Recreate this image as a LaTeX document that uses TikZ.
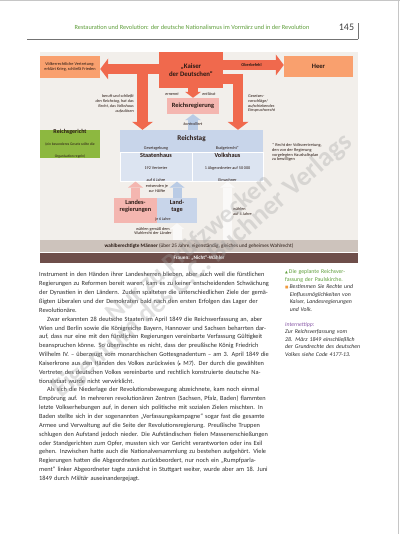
\documentclass[tikz,border=0pt]{standalone}
\usepackage{fontspec}
\setmainfont{Carlito}
\newfontfamily\symf{DejaVu Sans}
\usetikzlibrary{arrows.meta}
\definecolor{bgd}{HTML}{F2EFEB}
\definecolor{kaiserc}{HTML}{F0694D}
\definecolor{orangec}{HTML}{F9A06E}
\definecolor{pinkc}{HTML}{F4B6B0}
\definecolor{bluec}{HTML}{C8D5EA}
\definecolor{lbluec}{HTML}{DCE4F1}
\definecolor{kontrc}{HTML}{B9CBE5}
\definecolor{greenc}{HTML}{8DB840}
\definecolor{barc}{HTML}{CDC3BC}
\definecolor{darkbarc}{HTML}{6E4E4A}
\definecolor{txt}{HTML}{2E2E2E}
\definecolor{dtxt}{HTML}{2A1A14}
\definecolor{headg}{HTML}{5E9E3A}
\definecolor{wm}{HTML}{A0A0A0}
\definecolor{purp}{HTML}{8A5AA8}
\definecolor{bul}{HTML}{F29A3C}
\definecolor{wahlc}{HTML}{FAF9F8}
\newcommand{\fs}[2]{\fontsize{#1}{#2}\selectfont}
\newcommand{\jl}[1]{\makebox[234pt][s]{#1}}
\tikzset{
  boxn/.style={inner sep=0pt, align=center, text=dtxt},
  fat/.style={line width=10pt, -{Triangle[width=21pt,length=8pt,line width=0pt]}},
  fatS/.style={line width=9pt, -{Triangle[width=15pt,length=6pt,line width=0pt]}},
  lab/.style={inner sep=0pt, align=center, text=dtxt, font=\itshape\fs{4.2}{4.8}},
  ttl/.style={font=\bfseries\fs{6.3}{7}},
  wmark/.style={rotate=41, inner sep=0pt, text=wm, opacity=0.32, font=\bfseries\fs{20}{21}},
}
\begin{document}
\begin{tikzpicture}[x=1pt,y=-1pt]
\useasboundingbox (0,0) rectangle (400,534);
\fill[white] (0,0) rectangle (400,534);
\draw[gray!45, line width=1.2pt] (0,0.6) -- (400,0.6);
\draw[gray!45, line width=1.2pt] (398.6,0) -- (398.6,534);

% header
\node[inner sep=0pt, text=headg, font=\fs{6.3}{7}] (head) at (192,27.5) {Restauration und Revolution: der deutsche Nationalismus im Vormärz und in der Revolution};
\node[inner sep=0pt, text=black!75, font=\fs{10}{11}] (pnum) at (346.5,27) {145};
\coordinate (rl) at (27,39.5);
\coordinate (rr) at (358,39.5);
\draw[black!55, line width=0.6pt] (rl) -- (rr);
\draw[black!55, line width=0.6pt] (rr) -- ++(0,-16);

% diagram background
\fill[bgd] (40,52) rectangle (358,240);

% boxes
\node[boxn, fill=orangec, minimum width=60pt, minimum height=22pt, font=\fs{4.3}{5.2}] (voelker) at (70,67) {Völkerrechtliche Vertretung:\\erklärt Krieg, schließt Frieden};
\node[boxn, fill=kaiserc, minimum width=64pt, minimum height=36pt, font=\bfseries\fs{6.8}{7.6}] (kaiser) at (191,70) {„Kaiser\\der Deutschen“};
\node[boxn, fill=orangec, minimum width=69pt, minimum height=21pt, font=\bfseries\fs{6.6}{7}] (heer) at (318.5,66.5) {Heer};
\node[boxn, fill=pinkc, minimum width=52pt, minimum height=16pt, font=\bfseries\fs{6.4}{7}] (regierung) at (193,106) {Reichsregierung};
\node[boxn, fill=greenc, minimum width=60pt, minimum height=18pt] (gericht) at (70,144) {{\bfseries\fs{6}{6.6}Reichsgericht}\\{\fs{3.7}{4.2}(ein besonderes Gesetz sollte die}\\{\fs{3.7}{4.2}Organisation regeln)}};

\node[boxn, fill=bluec, minimum width=143pt, minimum height=23pt] (reichstag) at (191.5,141.5) {};
\node[boxn, fill=lbluec, draw=white, line width=0.8pt, minimum width=72pt, minimum height=28pt] (staatenhaus) at (156,167) {{\bfseries\fs{6.2}{6.8}Staatenhaus}\\{\fs{4.2}{4.8}192 Vertreter}\\{\fs{4.2}{4.8}auf 6 Jahre}};
\node[boxn, fill=lbluec, draw=white, line width=0.8pt, minimum width=71pt, minimum height=28pt] (volkshaus) at (227.5,167) {{\bfseries\fs{6.2}{6.8}Volkshaus}\\{\fs{4.2}{4.8}1 Abgeordneter auf 50\,000}\\{\fs{4.2}{4.8}Einwohner}};
\node[boxn, font=\bfseries\fs{7.2}{8}] (rtitle) at (191.5,138.5) {Reichstag};
\node[boxn, font=\fs{4.2}{5}] (gesetz) at (156,148) {Gesetzgebung};
\node[boxn, font=\fs{4.2}{5}] (budget) at (227.5,148) {Budgetrecht*};
\node[inner sep=0pt, anchor=north west, align=left, text=dtxt, font=\fs{4.3}{4.9}] (fnote) at (272,143) {* Recht der Volksvertretung,\\den von der Regierung\\vorgelegten Haushaltsplan\\zu bewilligen};

\node[boxn, fill=pinkc, minimum width=43pt, minimum height=25pt] (landes) at (135.5,210.5) {};
\node[boxn, fill=bluec, minimum width=40pt, minimum height=25pt] (landtage) at (177,210.5) {};
\node[boxn, ttl] (landestxt) at (135.5,206.5) {Landes-\\regierungen};
\node[boxn, ttl] (landtagetxt) at (177,206.5) {Land-\\tage};
\node[boxn, font=\fs{4}{4.5}] (je6) at (163,219.5) {je 6 Jahre};

% bars
\node[boxn, fill=barc, minimum width=318pt, minimum height=11.5pt, font=\fs{5.2}{6}] (wbar) at (199,246) {\textbf{wahlberechtigte Männer} (über 25 Jahre, eigenständig, gleiches und geheimes Wahlrecht)};
\node[boxn, fill=darkbarc, minimum width=318pt, minimum height=10pt, text=white, font=\bfseries\fs{5.2}{6}] (fbar) at (199,258) {Frauen: „Nicht“-Wähler};

% connectors
\coordinate (lj) at (142.5,69);
\coordinate (ldn) at (142.5,64);
\coordinate (ob) at (0,65);
\coordinate (rj) at (238,79);
\draw[fat, kaiserc] (kaiser.west |- lj) -- (voelker.east |- lj);
\draw[fat, kaiserc, line width=11pt] (ldn) -- (ldn |- reichstag.north);
\draw[fat, kaiserc] (kaiser.east |- ob) -- node[inner sep=0pt, text=dtxt, font=\bfseries\fs{4.3}{5}, xshift=-2pt] (obl) {Oberbefehl} (heer.west |- ob);
\draw[fat, kaiserc, line join=miter, -] (kaiser.east |- rj) -- (rj);
\draw[fat, kaiserc] (rj) ++(0,-5) coordinate (rj2) -- (rj2 |- reichstag.north);
\draw[line width=10pt, kaiserc, -{Triangle[width=16pt,length=6pt,line width=0pt]}] (regierung.north |- kaiser.south) -- (regierung.north);
\draw[line width=10pt, kontrc, -{Triangle[width=16pt,length=6pt,line width=0pt]}] (regierung.south |- reichstag.north) -- node[lab, pos=0.4] (kontr) {kontrolliert} (regierung.south);
\draw[fatS, pinkc] (landes.north) -- (landes.north |- staatenhaus.south);
\draw[fatS, kontrc] (landtage.north) -- (landtage.north |- staatenhaus.south);
\draw[fatS, wahlc] (landtage.south |- wbar.north) -- (landtage.south);
\draw[fatS, wahlc] (volkshaus.south |- wbar.north) -- (volkshaus.south);

% labels
\node[lab] (ernennt) at (172,94) {ernennt};
\node[lab] (entl) at (209,94) {entlässt};
\node[lab, anchor=north east, align=right] (beruft) at (134,94.5) {beruft und schließt\\den Reichstag, hat das\\Recht, das Volkshaus\\aufzulösen};
\node[lab, anchor=north west, align=left] (gesvor) at (248,94.5) {Gesetzes-\\vorschläge/\\aufschiebendes\\Einspruchsrecht};
\node[lab, font=\fs{4.2}{4.8}] (entsenden) at (157,188.5) {entsenden je\\zur Hälfte};
\node[lab, font=\fs{4.2}{4.8}] (waehlen1) at (153,231) {wählen gemäß dem\\Wahlrecht der Länder};
\node[lab, font=\fs{4.2}{4.8}, anchor=west, align=left] (waehlen2) at (233,211.5) {wählen\\auf 4 Jahre};

% body text
\node[anchor=north west, inner sep=0pt, text width=234pt, align=left, text=txt, font=\fs{6.35}{8.85}] (body) at (39,272.3) {%
\jl{Instrument in den Händen ihrer Landesherren blieben, aber auch weil die fürstlichen}\\
\jl{Regierungen zu Reformen bereit waren, kam es zu keiner entscheidenden Schwächung}\\
\jl{der Dynastien in den Ländern. Zudem spalteten die unterschiedlichen Ziele der gemä-}\\
\jl{ßigten Liberalen und der Demokraten bald nach den ersten Erfolgen das Lager der}\\
Revolutionäre.\\
\jl{\hspace*{8pt}Zwar erkannten 28 deutsche Staaten im April 1849 die Reichsverfassung an, aber}\\
\jl{Wien und Berlin sowie die Königreiche Bayern, Hannover und Sachsen beharrten dar-}\\
\jl{auf, dass nur eine mit den fürstlichen Regierungen vereinbarte Verfassung Gültigkeit}\\
\jl{beanspruchen könne. So überraschte es nicht, dass der preußische König Friedrich}\\
\jl{Wilhelm IV. – überzeugt vom monarchischen Gottesgnadentum – am 3. April 1849 die}\\
\jl{Kaiserkrone aus den Händen des Volkes zurückwies ({\symf\fs{4}{8.85}▸} M7). Der durch die gewählten}\\
\jl{Vertreter des deutschen Volkes vereinbarte und rechtlich konstruierte deutsche Na-}\\
tionalstaat wurde nicht verwirklicht.\\
\jl{\hspace*{8pt}Als sich die Niederlage der Revolutionsbewegung abzeichnete, kam noch einmal}\\
\jl{Empörung auf. In mehreren revolutionären Zentren (Sachsen, Pfalz, Baden) flammten}\\
\jl{letzte Volkserhebungen auf, in denen sich politische mit sozialen Zielen mischten. In}\\
\jl{Baden stellte sich in der sogenannten „Verfassungskampagne“ sogar fast die gesamte}\\
\jl{Armee und Verwaltung auf die Seite der Revolutionsregierung. Preußische Truppen}\\
\jl{schlugen den Aufstand jedoch nieder. Die Aufständischen fielen Massenerschießungen}\\
\jl{oder Standgerichten zum Opfer, mussten sich vor Gericht verantworten oder ins Exil}\\
\jl{gehen. Inzwischen hatte auch die Nationalversammlung zu bestehen aufgehört. Viele}\\
\jl{Regierungen hatten die Abgeordneten zurückbeordert, nur noch ein „Rumpfparla-}\\
\jl{ment“ linker Abgeordneter tagte zunächst in Stuttgart weiter, wurde aber am 18. Juni}\\
1849 durch \textit{Militär} auseinandergejagt.};

% sidebar
\node[anchor=north west, inner sep=0pt, text width=75pt, align=left, text=txt, font=\itshape\fs{5.8}{7.5}] (side) at (285,269.5) {%
\textcolor{headg}{\upshape{\symf\fs{3.6}{7.5}▲}\,Die geplante Reichsver-}\\
\textcolor{headg}{\upshape fassung der Paulskirche.}\\
\textcolor{bul}{\upshape{\symf\fs{3.6}{7.5}■}}\,Bestimmen Sie Rechte und\\
\hspace*{4.6pt}Einflussmöglichkeiten von\\
\hspace*{4.6pt}Kaiser, Landesregierungen\\
\hspace*{4.6pt}und Volk.\\[7.5pt]
\textcolor{purp}{Internettipp:}\\
Zur Reichsverfassung vom\\
28. März 1849 einschließlich\\
der Grundrechte des deutschen\\
Volkes siehe Code 4177-13.};

% watermark
\node[wmark] (wm1) at (188,247) {\resizebox{211pt}{!}{Nur zu Prüfzwecken}};
\node[wmark] (wm2) at (203,266) {\resizebox{387pt}{!}{Eigentum des C.C. Buchner Verlags}};
\end{tikzpicture}
\end{document}
